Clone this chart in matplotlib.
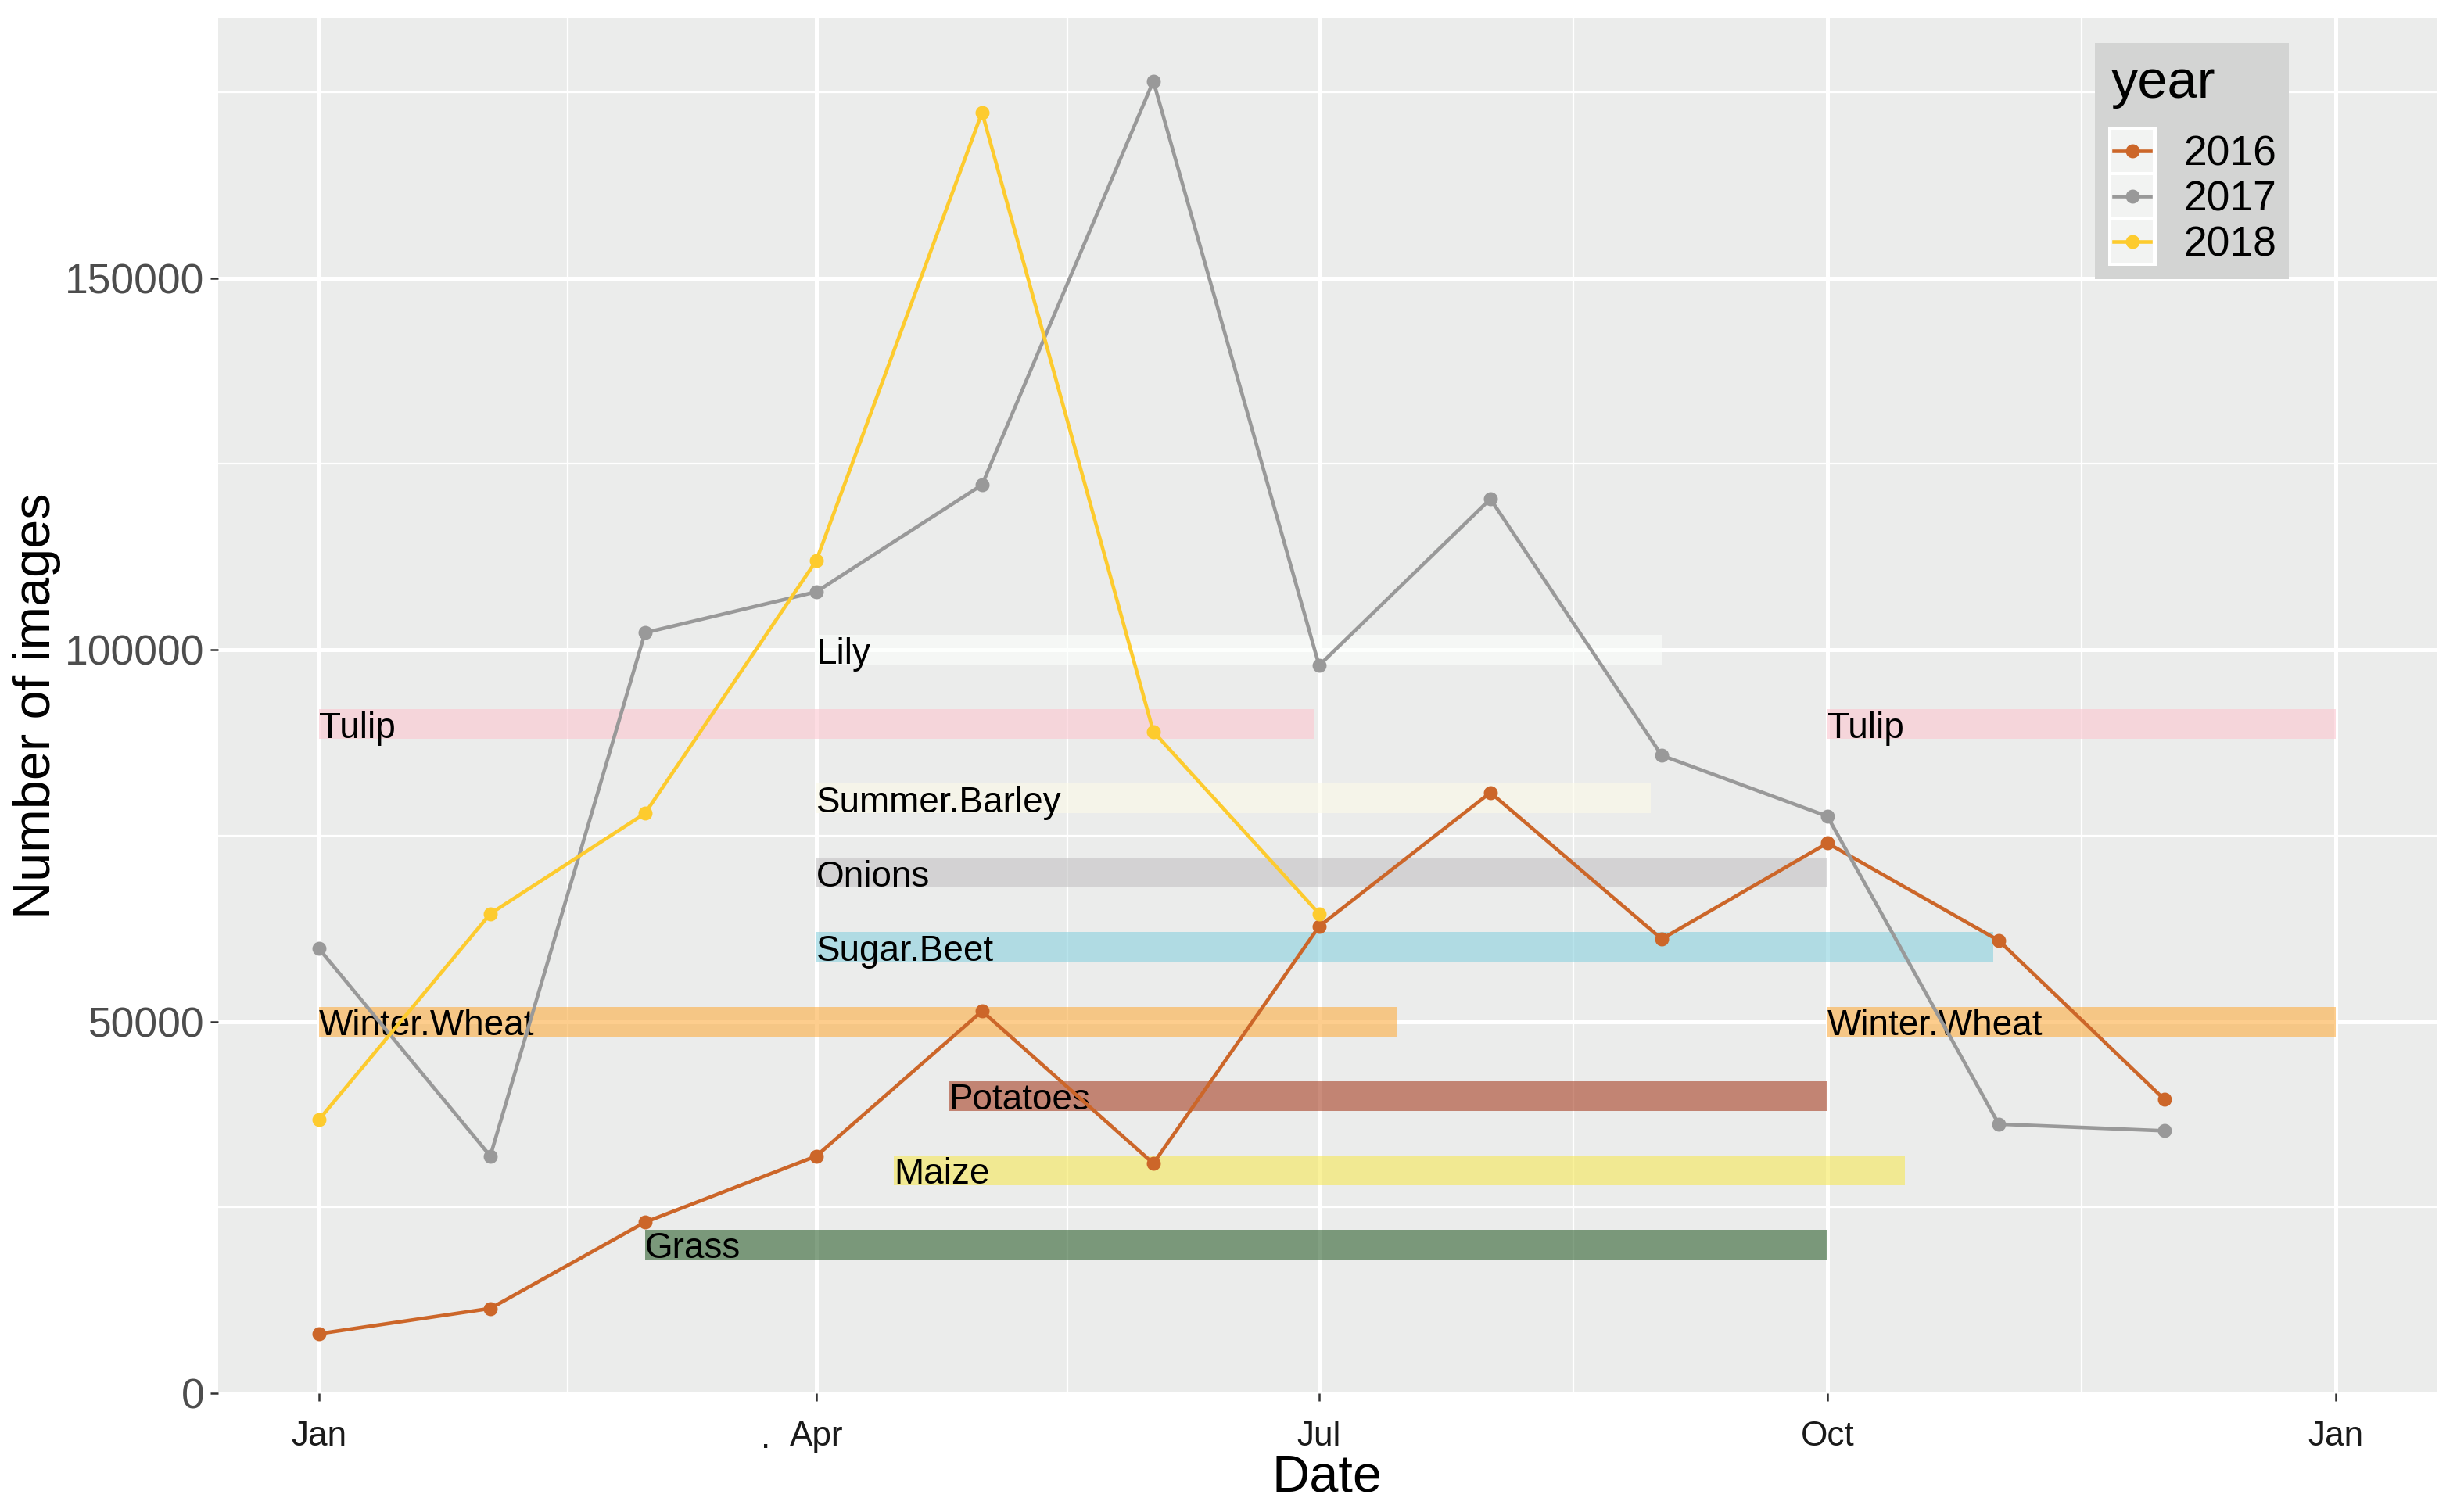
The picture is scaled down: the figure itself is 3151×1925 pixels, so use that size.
import datetime as dt
import matplotlib
matplotlib.use("Agg")
import matplotlib.pyplot as plt
import matplotlib.dates as mdates
from matplotlib.patches import Rectangle
from matplotlib.lines import Line2D

plt.rcParams["font.family"] = ["Liberation Sans", "DejaVu Sans"]

# monthly image counts (first day of each month)
months = [dt.date(2017, m, 1) for m in range(1, 13)]
counts_2016 = [8000, 11400, 23000, 31900, 51400, 30900, 62800, 80800, 61100, 74000, 60900, 39500]
counts_2017 = [59800, 31900, 102300, 107800, 122200, 176500, 97900, 120300, 85800, 77600, 36200, 35300]
counts_2018 = [36800, 64500, 78000, 112000, 172300, 89000, 64500]

years = ["2016", "2017", "2018"]
year_colors = ["#CC6629", "#999999", "#FDCB2E"]

# crop growing seasons
crop_names = ["Lily", "Tulip", "Summer.Barley", "Onions", "Sugar.Beet", "Winter.Wheat",
              "Potatoes", "Maize", "Grass", "Tulip", "Winter.Wheat"]
crop_level = [100000, 90000, 80000, 70000, 60000, 50000, 40000, 30000, 20000, 90000, 50000]
crop_start = [dt.date(2017, 4, 1), dt.date(2017, 1, 1), dt.date(2017, 4, 1), dt.date(2017, 4, 1),
              dt.date(2017, 4, 1), dt.date(2017, 1, 1), dt.date(2017, 4, 25), dt.date(2017, 4, 15),
              dt.date(2017, 3, 1), dt.date(2017, 10, 1), dt.date(2017, 10, 1)]
crop_end = [dt.date(2017, 9, 1), dt.date(2017, 6, 30), dt.date(2017, 8, 30), dt.date(2017, 10, 1),
            dt.date(2017, 10, 31), dt.date(2017, 7, 15), dt.date(2017, 10, 1), dt.date(2017, 10, 15),
            dt.date(2017, 10, 1), dt.date(2018, 1, 1), dt.date(2018, 1, 1)]
crop_colors = ["#FCFFFD", "#FCC6CF", "#FDFBE9", "#C3C2C3", "#89D1DE", "#FCAD41",
               "#A83F23", "#F6E857", "#2F612F", "#FCC6CF", "#FCAD41"]

W, H = 3151, 1925
fig = plt.figure(figsize=(W / 300, H / 300), dpi=300)
fig.patch.set_facecolor("white")


def fx(px):
    return px / W


def fy(py):
    return 1 - py / H


pl, pr, pt, pb = 279, 3116, 23, 1782
ax = fig.add_axes([fx(pl), fy(pb), fx(pr - pl), (pb - pt) / H])
ax.set_facecolor("#EBECEB")
for s in ax.spines.values():
    s.set_visible(False)

# crop bars
for name, lvl, st, en, col in zip(crop_names, crop_level, crop_start, crop_end, crop_colors):
    x0 = mdates.date2num(st)
    x1 = mdates.date2num(en)
    ax.barh(lvl, x1 - x0, left=x0, height=4000, color=col, alpha=0.6, zorder=2, linewidth=0)
    ax.text(x0, lvl - 1850, name, ha="left", va="baseline", fontsize=11, color="black", zorder=3)

# year lines
for yr, vals, col in zip(years, [counts_2016, counts_2017, counts_2018], year_colors):
    ax.plot(months[:len(vals)], vals, color=col, lw=1.1, marker="o", ms=3.3, zorder=4)

x_lo = mdates.date2num(dt.date(2017, 1, 1)) - 18.25
x_hi = mdates.date2num(dt.date(2018, 1, 1)) + 18.25
ax.set_xlim(x_lo, x_hi)
ax.set_ylim(0, 185000)

major_dates = [dt.date(2017, 1, 1), dt.date(2017, 4, 1), dt.date(2017, 7, 1),
               dt.date(2017, 10, 1), dt.date(2018, 1, 1)]
major_x = [mdates.date2num(d) for d in major_dates]
minor_x = [(a + b) / 2 for a, b in zip(major_x[:-1], major_x[1:])]
ax.set_xticks(major_x)
ax.set_xticklabels(["Jan", "Apr", "Jul", "Oct", "Jan"])
ax.set_xticks(minor_x, minor=True)
ax.set_yticks([0, 50000, 100000, 150000])
ax.set_yticklabels(["0", "50000", "100000", "150000"])
ax.set_yticks([25000, 75000, 125000, 175000], minor=True)

ax.grid(which="major", color="white", lw=1.2, zorder=0)
ax.grid(which="minor", color="white", lw=0.55, zorder=0)
ax.set_axisbelow(True)
ax.tick_params(axis="both", which="minor", length=0)
ax.tick_params(axis="y", which="major", length=2.4, width=0.6, color="#333333",
               labelsize=12.8, labelcolor="#4D4D4D", pad=1.8)
ax.tick_params(axis="x", which="major", length=2.4, width=0.6, color="#333333",
               labelsize=10.6, labelcolor="#1A1A1A", pad=6)

# axis titles
fig.text(fx((pl + pr) / 2), fy(1907), "Date", ha="center", va="baseline", fontsize=16)
fig.text(fx(47), fy((pt + pb) / 2), "Number of images", ha="center", va="center",
         rotation=90, fontsize=16)
fig.text(fx(979), fy(1852), ".", ha="center", va="baseline", fontsize=10.6, color="#1A1A1A")

# legend drawn by hand
fig.patches.append(Rectangle((fx(2679), fy(357)), fx(2927 - 2679), (357 - 55) / H,
                             transform=fig.transFigure, facecolor="#D3D4D3", edgecolor="none"))
fig.text(fx(2700), fy(125), "year", ha="left", va="baseline", fontsize=16.5)
fig.patches.append(Rectangle((fx(2696), fy(340)), fx(62), (340 - 163) / H,
                             transform=fig.transFigure, facecolor="white", edgecolor="none"))
key_tops = [166, 224, 282]
for yr, col, top in zip(years, year_colors, key_tops):
    fig.patches.append(Rectangle((fx(2700), fy(top + 54)), fx(53), 54 / H,
                                 transform=fig.transFigure, facecolor="#F2F3F2", edgecolor="none"))
    cy = top + 27
    fig.lines.append(Line2D([fx(2703), fx(2750)], [fy(cy), fy(cy)], transform=fig.transFigure,
                            color=col, lw=1.1, marker=None))
    fig.lines.append(Line2D([fx(2726.5)], [fy(cy)], transform=fig.transFigure,
                            color=col, marker="o", ms=3.3, lw=0))
    fig.text(fx(2792), fy(cy + 18), yr, ha="left", va="baseline", fontsize=12.8)

fig.savefig("out.png", dpi=300)
